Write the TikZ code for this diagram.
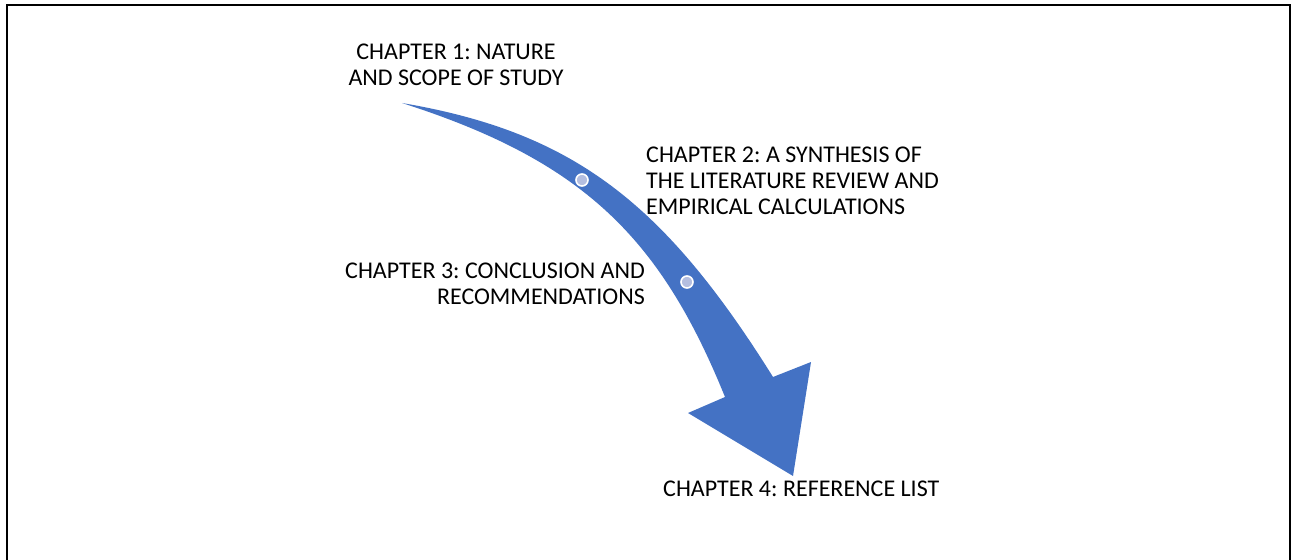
\documentclass[tikz,border=0pt]{standalone}
\usepackage{fontspec}
\setmainfont{Carlito}
\frenchspacing
\definecolor{arrowblue}{HTML}{4472C4}
\definecolor{dotfill}{HTML}{B4BEE0}
\tikzset{
  lbl/.style={inner sep=0pt, font=\fontsize{24}{26}\selectfont\frenchspacing, text=black},
  stepdot/.style={circle, fill=dotfill, draw=white, line width=1.6pt, minimum size=12pt, inner sep=0pt},
  frame/.style={draw=black, line width=1.8pt}
}
\begin{document}
\begin{tikzpicture}[x=1pt,y=-1pt]
\useasboundingbox (0,0) rectangle (1297,559);
\fill[white] (0,0) rectangle (1297,559);
% frame (bottom edge lies outside the picture)
\draw[frame] (7,600) -- (7,5) -- (1290,5) -- (1290,600);
% curved arrow
\fill[arrowblue] (402,103)
  .. controls (572,132) and (663,201) .. (773,377)
  -- (811,362) -- (793,476) -- (688,413) -- (725,397)
  .. controls (660,236.5) and (582,160.6) .. (402,103)
  -- cycle;
\node[stepdot] (d1) at (582,180) {};
\node[stepdot] (d2) at (687,282) {};
% labels
\node[lbl, align=center, anchor=north] (c1) at (456,44) {CHAPTER 1: NATURE\\AND SCOPE OF STUDY};
\node[lbl, align=left, anchor=north west] (c2) at (646,147) {CHAPTER 2: A SYNTHESIS OF\\THE LITERATURE REVIEW AND\\EMPIRICAL CALCULATIONS};
\node[lbl, align=right, anchor=north east] (c3) at (645,263) {CHAPTER 3: CONCLUSION AND\\RECOMMENDATIONS};
\node[lbl, anchor=north west] (c4) at (663,481) {CHAPTER 4: REFERENCE LIST};
\end{tikzpicture}
\end{document}
